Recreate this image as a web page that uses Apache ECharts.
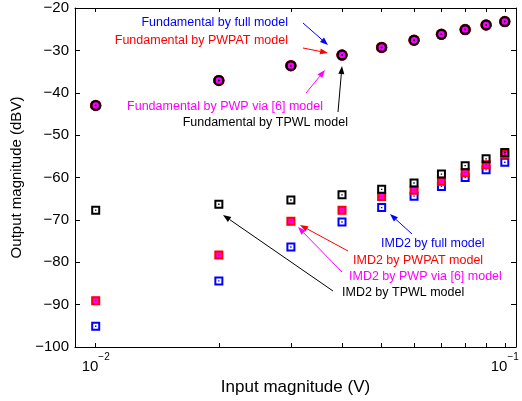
<!DOCTYPE html>
<html>
<head>
<meta charset="utf-8">
<script src="https://cdn.jsdelivr.net/npm/echarts@6/dist/echarts.min.js"></script>
<style>
html, body { margin: 0; padding: 0; background: #fff; }
#container { width: 522px; height: 401px; }
</style>
</head>
<body>
<div id="container"></div>
<script>
// input amplitude (V)
var inputV = [0.01, 0.02, 0.03, 0.04, 0.05, 0.06, 0.07, 0.08, 0.09, 0.1];

// fundamental output (dBV), the four models overlap
var fundFull  = [-43.0, -37.1, -33.6, -31.1, -29.3, -27.6, -26.2, -25.1, -24.0, -23.2];
var fundPWPAT = [-43.0, -37.1, -33.6, -31.1, -29.3, -27.6, -26.2, -25.1, -24.0, -23.2];
var fundPWP   = [-43.0, -37.1, -33.6, -31.1, -29.3, -27.6, -26.2, -25.1, -24.0, -23.2];
var fundTPWL  = [-43.0, -37.1, -33.6, -31.1, -29.3, -27.6, -26.2, -25.1, -24.0, -23.2];

// IMD2 output (dBV)
var imdFull  = [-95.1, -84.4, -76.4, -70.5, -67.1, -64.4, -62.1, -60.0, -58.2, -56.4];
var imdPWPAT = [-89.1, -78.3, -70.3, -67.7, -64.5, -63.0, -60.9, -58.9, -57.0, -54.5];
var imdPWP   = [-89.1, -78.3, -70.3, -67.7, -64.5, -63.0, -60.9, -58.9, -57.0, -54.5];
var imdTPWL  = [-67.7, -66.3, -65.3, -64.1, -62.8, -61.3, -59.2, -57.2, -55.6, -54.1];

var xTicks = [0.01, 0.02, 0.03, 0.04, 0.05, 0.06, 0.07, 0.08, 0.09, 0.1];
var xLabels = [0.01, 0.1];

var FONT = '"Liberation Sans", Arial, Helvetica, sans-serif';

var ringSquare = 'path://M0,0 H9 V9 H0 Z M2,2 V7 H7 V2 Z M3.8,3.8 H5.2 V5.2 H3.8 Z';
var ringCircle = 'path://M0,-5.5 A5.5,5.5 0 1,1 0,5.5 A5.5,5.5 0 1,1 0,-5.5 Z ' +
    'M0,-3.2 A3.2,3.2 0 1,0 0,3.2 A3.2,3.2 0 1,0 0,-3.2 Z ' +
    'M0,-1 A1,1 0 1,1 0,1 A1,1 0 1,1 0,-1 Z';

function pairs(ys) {
    return inputV.map(function (x, i) { return [x, ys[i]]; });
}

function pts(name, ys, symbol, size, color) {
    return {
        name: name,
        type: 'scatter',
        data: pairs(ys),
        symbol: symbol,
        symbolSize: size,
        symbolKeepAspect: true,
        itemStyle: { color: color, opacity: 1 },
        emphasis: { disabled: true },
        silent: true
    };
}

function arrow(x1, y1, x2, y2, color) {
    var dx = x2 - x1, dy = y2 - y1;
    var len = Math.sqrt(dx * dx + dy * dy);
    var ux = dx / len, uy = dy / len;
    var L = 8, W = 3;
    var bx = x2 - ux * L, by = y2 - uy * L;
    return {
        type: 'group',
        children: [
            { type: 'line', shape: { x1: x1, y1: y1, x2: bx, y2: by }, style: { stroke: color, lineWidth: 1 } },
            { type: 'polygon', shape: { points: [[x2, y2], [bx - uy * W, by + ux * W], [bx + uy * W, by - ux * W]] },
              style: { fill: color } }
        ]
    };
}

function note(text, x, y, color, align) {
    return {
        type: 'text', x: x, y: y,
        style: { text: text, fill: color, font: '12.5px ' + FONT, textAlign: align || 'left', textVerticalAlign: 'middle' }
    };
}

var xLab = {
    customValues: xLabels,
    margin: 5,
    formatter: function (v) {
        var e = Math.round(Math.log10(v));
        return '{b|10}{sup|' + (e < 0 ? '\u2212' : '') + Math.abs(e) + '}';
    },
    rich: {
        b: { fontSize: 15, fontFamily: FONT, color: '#000', lineHeight: 22, verticalAlign: 'bottom' },
        sup: { fontSize: 10, fontFamily: FONT, color: '#000', lineHeight: 22, verticalAlign: 'top' }
    }
};

var dom = document.getElementById('container');
var myChart = echarts.init(dom);
var option = {
    animation: false,
    backgroundColor: '#fff',
    grid: { left: 75, right: 6, top: 8, bottom: 54, containLabel: false },
    xAxis: [
        {
            type: 'log', logBase: 10, min: 0.0089, max: 0.1065,
            name: 'Input magnitude (V)', nameLocation: 'middle', nameGap: 28,
            nameTextStyle: { fontSize: 17, fontFamily: FONT, color: '#000' },
            axisLine: { lineStyle: { color: '#000', width: 1 } },
            axisTick: { inside: true, length: 4, customValues: xTicks, lineStyle: { color: '#000' } },
            axisLabel: xLab,
            splitLine: { show: false }, minorTick: { show: false }
        },
        {
            type: 'log', logBase: 10, min: 0.0089, max: 0.1065, position: 'top',
            axisLine: { lineStyle: { color: '#000', width: 1 } },
            axisTick: { inside: true, length: 4, customValues: xTicks, lineStyle: { color: '#000' } },
            axisLabel: { show: false },
            splitLine: { show: false }
        }
    ],
    yAxis: [
        {
            type: 'value', min: -100, max: -20, interval: 10,
            name: 'Output magnitude (dBV)', nameLocation: 'middle', nameGap: 41,
            nameTextStyle: { fontSize: 15, fontFamily: FONT, color: '#000' },
            axisLine: { show: true, lineStyle: { color: '#000', width: 1 } },
            axisTick: { show: true, inside: true, length: 5, lineStyle: { color: '#000' } },
            axisLabel: {
                fontSize: 15, fontFamily: FONT, color: '#000', margin: 6,
                formatter: function (v) { return String(v).replace('-', '\u2212'); }
            },
            splitLine: { show: false }
        },
        {
            type: 'value', min: -100, max: -20, interval: 10, position: 'right',
            axisLine: { show: true, lineStyle: { color: '#000', width: 1 } },
            axisTick: { show: true, inside: true, length: 5, lineStyle: { color: '#000' } },
            axisLabel: { show: false },
            splitLine: { show: false }
        }
    ],
    series: [
        pts('Fundamental by full model', fundFull, 'circle', 11, '#0000ff'),
        pts('Fundamental by PWPAT model', fundPWPAT, 'circle', 11.5, '#ff0000'),
        pts('Fundamental by PWP via [6] model', fundPWP, 'circle', 9, '#ff00ff'),
        pts('Fundamental by TPWL model', fundTPWL, ringCircle, 11, '#000000'),
        pts('IMD2 by full model', imdFull, ringSquare, 9, '#0000ff'),
        pts('IMD2 by PWP via [6] model', imdPWP, 'rect', 8, '#ff00ff'),
        pts('IMD2 by PWPAT model', imdPWPAT, ringSquare, 9, '#ff0000'),
        pts('IMD2 by TPWL model', imdTPWL, ringSquare, 9, '#000000')
    ],
    graphic: [
        note('Fundamental by full model', 288, 23, '#0000ff', 'right'),
        note('Fundamental by PWPAT model', 288, 41, '#ff0000', 'right'),
        note('Fundamental by PWP via [6] model', 323, 107, '#ff00ff', 'right'),
        note('Fundamental by TPWL model', 348, 123, '#000000', 'right'),
        arrow(303, 23, 328, 45, '#0000ff'),
        arrow(303, 48, 328, 53, '#ff0000'),
        arrow(306, 93, 325, 70, '#ff00ff'),
        arrow(338, 112, 342, 66, '#000000'),
        note('IMD2 by full model', 381, 244, '#0000ff'),
        note('IMD2 by PWPAT model', 353, 261, '#ff0000'),
        note('IMD2 by PWP via [6] model', 349, 277, '#ff00ff'),
        note('IMD2 by TPWL model', 342, 293, '#000000'),
        arrow(412, 234, 390, 214, '#0000ff'),
        arrow(348, 251, 300, 225, '#ff0000'),
        arrow(342, 272, 298, 227, '#ff00ff'),
        arrow(333, 291, 223, 215, '#000000')
    ]
};
myChart.setOption(option, true);
</script>
</body>
</html>
